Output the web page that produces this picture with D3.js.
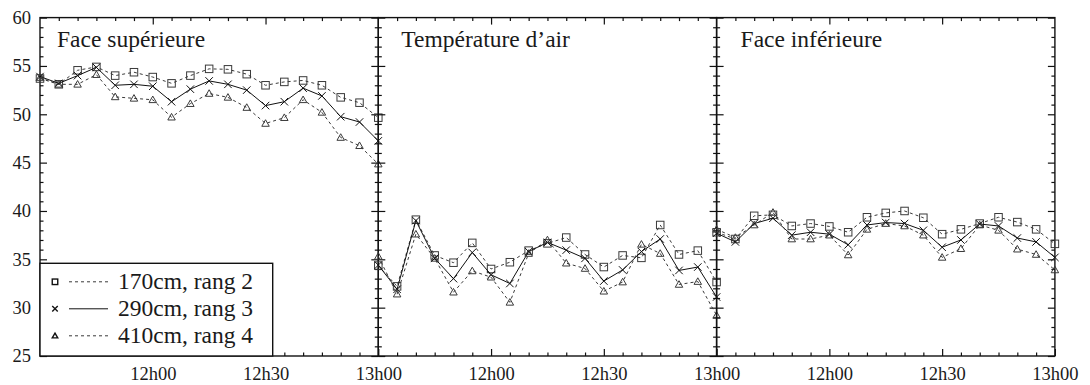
<!DOCTYPE html>
<html>
<head>
<meta charset="utf-8">
<script src="https://cdn.jsdelivr.net/npm/d3@7"></script>
<style>
  html, body { margin: 0; padding: 0; background: #fff; }
  svg text { font-family: "Liberation Serif", "DejaVu Serif", serif; fill: #1a1a1a; }
</style>
</head>
<body>
<svg id="chart" width="1090" height="385"></svg>
<script>
// ---- data ----
const times = ["11h30","11h35","11h40","11h45","11h50","11h55","12h00","12h05","12h10","12h15",
               "12h20","12h25","12h30","12h35","12h40","12h45","12h50","12h55","13h00"];
const panelTitles = ["Face supérieure", "Température d\u2019air", "Face inférieure"];
const seriesNames = ["170cm, rang 2", "290cm, rang 3", "410cm, rang 4"];
const xTickLabels = ["12h00", "12h30", "13h00"];
const yTickLabels = [25, 30, 35, 40, 45, 50, 55, 60];

// Face supérieure
const sup170 = [53.7, 53.1, 54.55, 54.9, 54.0, 54.35, 53.85, 53.2, 54.0, 54.7, 54.65, 54.15, 53.0, 53.35, 53.5, 53.0, 51.75, 51.2, 49.65];
const sup290 = [53.9, 53.2, 54.0, 54.85, 53.0, 53.1, 52.9, 51.3, 52.6, 53.45, 53.1, 52.5, 50.9, 51.3, 52.7, 51.9, 49.75, 49.2, 47.25];
const sup410 = [53.8, 53.1, 53.1, 54.1, 51.8, 51.65, 51.5, 49.7, 51.1, 52.15, 51.75, 50.7, 49.05, 49.65, 51.5, 50.2, 47.6, 46.75, 44.85];
// Température d'air
const air170 = [34.35, 32.2, 39.1, 35.4, 34.65, 36.7, 34.0, 34.7, 35.9, 36.65, 37.25, 35.5, 34.2, 35.4, 35.15, 38.55, 35.5, 35.9, 32.65];
const air290 = [34.4, 31.9, 39.0, 35.1, 33.0, 35.7, 33.4, 32.5, 35.8, 36.75, 35.95, 35.1, 32.75, 33.9, 35.8, 37.1, 33.85, 34.2, 31.1];
const air410 = [35.3, 31.4, 37.6, 35.1, 31.6, 33.8, 33.15, 30.55, 35.6, 37.0, 34.6, 34.05, 31.7, 32.65, 36.55, 35.6, 32.4, 32.7, 29.2];
// Face inférieure
const inf170 = [37.8, 37.1, 39.5, 39.6, 38.45, 38.7, 38.4, 37.8, 39.35, 39.8, 40.0, 39.3, 37.6, 38.1, 38.7, 39.35, 38.85, 38.1, 36.6];
const inf290 = [37.7, 36.8, 38.7, 39.25, 37.5, 37.8, 37.6, 36.5, 38.55, 38.8, 38.7, 38.0, 36.25, 37.0, 38.65, 38.45, 37.2, 36.8, 35.2];
const inf410 = [38.1, 37.25, 38.55, 39.85, 37.1, 37.1, 37.5, 35.45, 38.1, 38.7, 38.45, 37.5, 35.2, 36.1, 38.55, 38.0, 36.05, 35.5, 33.9];

const panelData = [[sup170, sup290, sup410], [air170, air290, air410], [inf170, inf290, inf410]];

// ---- layout ----
const svg = d3.select("#chart");
const plotLeft = 40, plotTop = 17.6, plotH = 338.4, panelW = 338.3;
const toMin = s => { const [h, m] = s.split("h").map(Number); return h * 60 + m; };
const tMins = times.map(toMin);
const x = d3.scaleLinear().domain([tMins[0], tMins[tMins.length - 1]]).range([0, panelW]);
const y = d3.scaleLinear().domain([25, 60]).range([plotTop + plotH, plotTop]);

const styles = [
  { dash: "3,3", marker: "square", color: "#3a3a3a" },
  { dash: null, marker: "cross", color: "#111" },
  { dash: "3,3", marker: "triangle", color: "#3a3a3a" }
];
const titleOffsets = [17, 23, 24];

function drawMarker(g, type, cx, cy, s, color, sw) {
  if (type === "square") {
    g.append("rect").attr("x", cx - s / 2).attr("y", cy - s / 2).attr("width", s).attr("height", s)
      .attr("fill", "none").attr("stroke", color).attr("stroke-width", sw);
  } else if (type === "cross") {
    const h = s / 2;
    g.append("path").attr("d", `M${cx - h},${cy - h}L${cx + h},${cy + h}M${cx - h},${cy + h}L${cx + h},${cy - h}`)
      .attr("stroke", color).attr("stroke-width", sw).attr("fill", "none");
  } else {
    const h = s / 2;
    g.append("path").attr("d", `M${cx},${cy - h}L${cx + h},${cy + h * 0.75}L${cx - h},${cy + h * 0.75}Z`)
      .attr("stroke", color).attr("stroke-width", sw).attr("fill", "none");
  }
}

const majorX = xTickLabels.map(toMin);
const minorX = tMins.filter(t => !majorX.includes(t) && t !== tMins[0]);
const minorY = d3.range(26, 60).filter(v => v % 5 !== 0);

panelData.forEach((series, p) => {
  const g = svg.append("g").attr("transform", `translate(${plotLeft + p * panelW},0)`);

  const axB = g.append("g").attr("transform", `translate(0,${plotTop + plotH})`);
  axB.call(d3.axisBottom(x).tickValues(minorX).tickSizeInner(-3.5).tickSizeOuter(0).tickFormat(""));
  const axBM = g.append("g").attr("transform", `translate(0,${plotTop + plotH})`);
  axBM.call(d3.axisBottom(x).tickValues(majorX).tickSizeInner(-7).tickSizeOuter(0).tickPadding(11)
    .tickFormat((d, i) => xTickLabels[i]));
  const axT = g.append("g").attr("transform", `translate(0,${plotTop})`);
  axT.call(d3.axisTop(x).tickValues(minorX).tickSizeInner(-3.5).tickSizeOuter(0).tickFormat(""));
  const axTM = g.append("g").attr("transform", `translate(0,${plotTop})`);
  axTM.call(d3.axisTop(x).tickValues(majorX.filter(v => v !== tMins[tMins.length - 1])).tickSizeInner(-7).tickSizeOuter(0).tickFormat(""));
  const axL = g.append("g");
  axL.call(d3.axisLeft(y).tickValues(minorY).tickSizeInner(-3.5).tickSizeOuter(0).tickFormat(""));
  const axLM = g.append("g");
  axLM.call(d3.axisLeft(y).tickValues(yTickLabels).tickSizeInner(-7).tickSizeOuter(0).tickPadding(9)
    .tickFormat(p === 0 ? (d => d) : ""));
  const axR = g.append("g").attr("transform", `translate(${panelW},0)`);
  axR.call(d3.axisRight(y).tickValues(minorY).tickSizeInner(-3.5).tickSizeOuter(0).tickFormat(""));
  const axRM = g.append("g").attr("transform", `translate(${panelW},0)`);
  axRM.call(d3.axisRight(y).tickValues(yTickLabels).tickSizeInner(-7).tickSizeOuter(0).tickFormat(""));

  g.selectAll(".domain").remove();
  g.selectAll(".tick line").attr("stroke", "#111").attr("stroke-width", 1.2);
  g.selectAll(".tick text").attr("font-size", 18.5).attr("font-family", "Liberation Serif, serif").attr("fill", "#1a1a1a");

  g.append("rect").attr("x", 0).attr("y", plotTop).attr("width", panelW).attr("height", plotH)
    .attr("fill", "none").attr("stroke", "#111").attr("stroke-width", 1.4);

  g.append("text").attr("x", titleOffsets[p]).attr("y", plotTop + 29).attr("font-size", 23.5).text(panelTitles[p]);

  series.forEach((vals, s) => {
    const st = styles[s];
    const line = d3.line().x((d, i) => x(tMins[i])).y(d => y(d));
    g.append("path").datum(vals).attr("d", line).attr("fill", "none")
      .attr("stroke", st.color).attr("stroke-width", 1).attr("stroke-dasharray", st.dash);
    const mg = g.append("g");
    vals.forEach((v, i) => drawMarker(mg, st.marker, x(tMins[i]), y(v), 7.5, st.color, 1));
  });
});

// legend
const lg = svg.append("g");
const lx = plotLeft, ly = 263.3, lw = 232.7, lh = plotTop + plotH - 263.3;
lg.append("rect").attr("x", lx).attr("y", ly).attr("width", lw).attr("height", lh)
  .attr("fill", "#fff").attr("stroke", "#111").attr("stroke-width", 1.4);
seriesNames.forEach((name, s) => {
  const st = styles[s];
  const cy = ly + 18.5 + s * 27;
  drawMarker(lg, st.marker, lx + 15, cy, 5.5, "#111", 1.4);
  lg.append("line").attr("x1", lx + 29).attr("x2", lx + 68).attr("y1", cy).attr("y2", cy)
    .attr("stroke", st.color).attr("stroke-width", 1).attr("stroke-dasharray", st.dash);
  lg.append("text").attr("x", lx + 78).attr("y", cy + 7.5).attr("font-size", 23.5).text(name);
});
</script>
</body>
</html>
